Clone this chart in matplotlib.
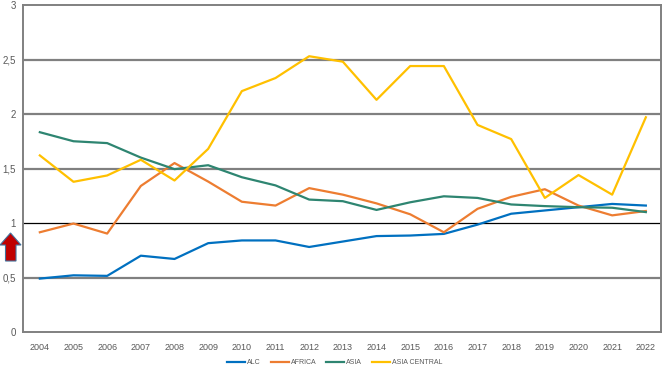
import matplotlib.pyplot as plt
from matplotlib.patches import Polygon
import numpy as np

plt.rcParams["font.family"] = ["Liberation Sans", "DejaVu Sans"]

years = list(range(2004, 2023))
alc = [0.49, 0.52, 0.515, 0.70, 0.67, 0.815, 0.84, 0.84, 0.78, 0.83, 0.88, 0.885, 0.90,
       0.985, 1.085, 1.115, 1.145, 1.175, 1.16]
africa = [0.915, 0.995, 0.903, 1.34, 1.55, 1.38, 1.195, 1.16, 1.32, 1.26, 1.18, 1.08, 0.915,
          1.13, 1.24, 1.31, 1.16, 1.07, 1.11]
asia = [1.833, 1.75, 1.733, 1.60, 1.494, 1.53, 1.42, 1.345, 1.215, 1.20, 1.12, 1.19, 1.245,
        1.23, 1.17, 1.155, 1.145, 1.14, 1.10]
asia_central = [1.62, 1.378, 1.436, 1.58, 1.39, 1.68, 2.21, 2.33, 2.53, 2.48, 2.13, 2.44, 2.44,
                1.90, 1.77, 1.23, 1.44, 1.26, 1.97]

series = [("ALC", alc, "#0070C0"),
          ("AFRICA", africa, "#ED7D31"),
          ("ASIA", asia, "#2E8571"),
          ("ASIA CENTRAL", asia_central, "#FFC000")]

W, H = 663, 369
fig = plt.figure(figsize=(W / 100, H / 100), dpi=100)
ax = fig.add_axes([23 / W, 1 - 332 / H, (661 - 23) / W, (332 - 5) / H])

for y in [0.5, 1.5, 2, 2.5]:
    ax.axhline(y, color="#808080", lw=1.6, zorder=1)
ax.axhline(1, color="black", lw=0.9, zorder=1)

for name, vals, col in series:
    ax.plot(years, vals, color=col, lw=1.6, label=name, zorder=3)

ax.set_xlim(2003.5, 2022.45)
ax.set_ylim(0, 3)
ax.set_xticks(years)
ax.set_xticklabels([str(y) for y in years])
yt = [0, 0.5, 1, 1.5, 2, 2.5, 3]
ax.set_yticks(yt)
ax.set_yticklabels(["0", "0,5", "1", "1,5", "2", "2,5", "3"])
ax.tick_params(length=0, labelsize=7, colors="#595959", pad=5)
ax.tick_params(axis="x", labelsize=6.5, pad=8)
for s in ax.spines.values():
    s.set_color("#808080")
    s.set_linewidth(1.4)

fig.legend(*ax.get_legend_handles_labels(), loc="center",
           bbox_to_anchor=(335 / W, 1 - 363 / H), ncol=4, frameon=False,
           fontsize=5, handlelength=2.6, handletextpad=0.3, columnspacing=1.4,
           labelcolor="#595959", borderpad=0)

# red arrow left of the axis
pts = [(0, 245), (10.5, 233), (21, 245), (16, 245), (16, 261), (5.5, 261), (5.5, 245)]
arrow = Polygon([(x / W, 1 - y / H) for x, y in pts], closed=True, transform=fig.transFigure,
                facecolor="#C00000", edgecolor="#41719C", lw=0.8)
fig.patches.append(arrow)

fig.savefig("out.png", dpi=100, facecolor="white")
